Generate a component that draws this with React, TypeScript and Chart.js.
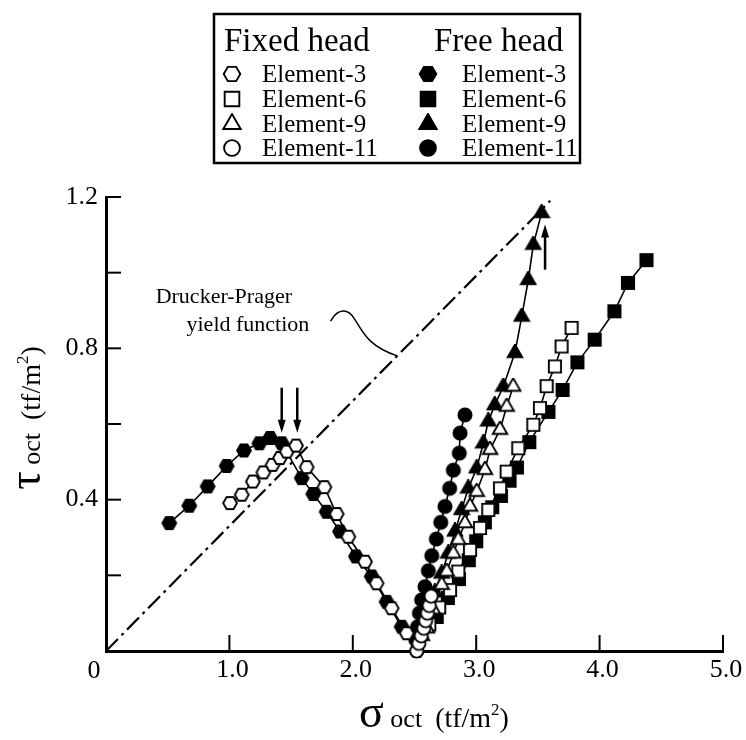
import React, { useEffect, useRef } from 'react';
import { Chart, registerables } from 'chart.js';

Chart.register(...registerables);

const FONT = '"Liberation Serif", "Times New Roman", serif';

// ---- tick values / labels ----
const xTickValues = [0, 1, 2, 3, 4, 5];
const xTickLabels = ['', '1.0', '2.0', '3.0', '4.0', '5.0'];
const originLabel = '0';
const yTickValues = [0, 0.2, 0.4, 0.6, 0.8, 1.0, 1.2];
const yLabeled = ['0.4', '0.8', '1.2'];

// ---- data (sigma_oct, tau_oct) ----
const fixedEl3 = [
  [1.005, 0.391], [1.1, 0.413], [1.19, 0.448], [1.275, 0.472], [1.35, 0.492],
  [1.41, 0.51], [1.465, 0.527], [1.54, 0.543], [1.626, 0.486], [1.77, 0.433],
  [1.869, 0.362], [1.964, 0.302], [2.099, 0.236], [2.193, 0.179], [2.315, 0.113],
  [2.437, 0.047], [2.518, 0.0],
];
const fixedEl6 = [
  [2.62, 0.07], [2.7, 0.115], [2.788, 0.161], [2.855, 0.21], [2.95, 0.267],
  [3.031, 0.325], [3.098, 0.373], [3.193, 0.43], [3.247, 0.474], [3.341, 0.536],
  [3.463, 0.598], [3.517, 0.642], [3.571, 0.7], [3.638, 0.752], [3.692, 0.805],
  [3.773, 0.854],
];
const fixedEl9 = [
  [2.6, 0.06], [2.65, 0.11], [2.72, 0.175], [2.761, 0.21], [2.815, 0.258],
  [2.855, 0.294], [2.909, 0.338], [2.95, 0.382], [3.004, 0.421], [3.071, 0.479],
  [3.112, 0.532], [3.193, 0.585], [3.247, 0.646], [3.3, 0.699],
];
const fixedEl11 = [
  [2.518, 0.0], [2.535, 0.02], [2.555, 0.04], [2.575, 0.06], [2.59, 0.08],
  [2.605, 0.1], [2.62, 0.12], [2.635, 0.145],
];
const freeEl3 = [
  [0.513, 0.338], [0.675, 0.384], [0.824, 0.435], [0.978, 0.489], [1.118, 0.53],
  [1.243, 0.549], [1.33, 0.563], [1.424, 0.549], [1.586, 0.457], [1.68, 0.415],
  [1.788, 0.368], [1.896, 0.316], [2.025, 0.25], [2.153, 0.197], [2.274, 0.13],
  [2.396, 0.064],
];
const freeEl6 = [
  [2.68, 0.09], [2.77, 0.14], [2.86, 0.19], [2.94, 0.24], [3.0, 0.29],
  [3.07, 0.34], [3.13, 0.38], [3.2, 0.41], [3.27, 0.45], [3.33, 0.485],
  [3.43, 0.552], [3.585, 0.632], [3.7, 0.69], [3.82, 0.763], [3.96, 0.823],
  [4.12, 0.898], [4.23, 0.973], [4.38, 1.033],
];
const freeEl9 = [
  [2.56, 0.04], [2.62, 0.1], [2.665, 0.155], [2.72, 0.205], [2.774, 0.258],
  [2.828, 0.316], [2.882, 0.373], [2.936, 0.43], [3.004, 0.483], [3.058, 0.549],
  [3.098, 0.607], [3.15, 0.65], [3.22, 0.699], [3.314, 0.788], [3.369, 0.884],
  [3.422, 0.981], [3.463, 1.074], [3.53, 1.158],
];
const freeEl11 = [
  [2.51, 0.03], [2.525, 0.064], [2.54, 0.1], [2.558, 0.135], [2.585, 0.17],
  [2.612, 0.212], [2.64, 0.252], [2.677, 0.296], [2.713, 0.34], [2.747, 0.382],
  [2.785, 0.43], [2.815, 0.478], [2.863, 0.523], [2.869, 0.576], [2.909, 0.624],
];
const druckerPrager = [[0, 0], [3.6, 1.19]];

// annotation anchors (data coords)
const downArrowsX = [1.424, 1.55];
const downArrowY = [0.696, 0.577];
const upArrow = [3.558, 1.008, 1.127];

const legendRows = ['Element-3', 'Element-6', 'Element-9', 'Element-11'];

function makeMarker(shape: string, filled: boolean, k = 1): HTMLCanvasElement {
  const s = Math.ceil(18 * k);
  const c = document.createElement('canvas');
  c.width = s;
  c.height = s;
  const ctx = c.getContext('2d')!;
  const cx = s / 2;
  const cy = s / 2;
  ctx.beginPath();
  if (shape === 'hex') {
    const r = 6.9 * k;
    for (let i = 0; i < 6; i++) {
      const a = (i * Math.PI) / 3;
      const px = cx + r * Math.cos(a);
      const py = cy + r * Math.sin(a);
      if (i === 0) ctx.moveTo(px, py);
      else ctx.lineTo(px, py);
    }
    ctx.closePath();
  } else if (shape === 'square') {
    const h = 6.1 * k;
    ctx.rect(cx - h, cy - h, 2 * h, 2 * h);
  } else if (shape === 'triangle') {
    const a = 14.5 * k;
    const h = (a * Math.sqrt(3)) / 2;
    ctx.moveTo(cx, cy - (2 * h) / 3);
    ctx.lineTo(cx + a / 2, cy + h / 3);
    ctx.lineTo(cx - a / 2, cy + h / 3);
    ctx.closePath();
  } else {
    ctx.arc(cx, cy, 6.6 * k, 0, Math.PI * 2);
  }
  ctx.fillStyle = filled ? '#000' : '#fff';
  ctx.fill();
  ctx.lineWidth = 1.9;
  ctx.strokeStyle = '#000';
  ctx.stroke();
  return c;
}

function drawRich(
  ctx: CanvasRenderingContext2D,
  parts: { t: string; size: number; dy?: number }[],
  cx: number,
  baseline: number
) {
  let total = 0;
  const widths = parts.map((p) => {
    ctx.font = `${p.size}px ${FONT}`;
    const w = ctx.measureText(p.t).width;
    total += w;
    return w;
  });
  let x = cx - total / 2;
  ctx.textAlign = 'left';
  ctx.textBaseline = 'alphabetic';
  parts.forEach((p, i) => {
    ctx.font = `${p.size}px ${FONT}`;
    ctx.fillText(p.t, x, baseline + (p.dy || 0));
    x += widths[i];
  });
}

function arrow(ctx: CanvasRenderingContext2D, x: number, y0: number, y1: number) {
  const dir = y1 > y0 ? 1 : -1;
  ctx.beginPath();
  ctx.moveTo(x, y0);
  ctx.lineTo(x, y1 - dir * 10);
  ctx.lineWidth = 2.5;
  ctx.stroke();
  ctx.beginPath();
  ctx.moveTo(x, y1);
  ctx.lineTo(x - 4, y1 - dir * 13);
  ctx.lineTo(x + 4, y1 - dir * 13);
  ctx.closePath();
  ctx.fill();
}

const titleParts = (g: string) => [
  { t: g, size: 46 },
  { t: ' oct  ', size: 26 },
  { t: '(tf/m', size: 28 },
  { t: '2', size: 17, dy: -12 },
  { t: ')', size: 28 },
];

export default function App() {
  const ref = useRef<HTMLCanvasElement | null>(null);

  useEffect(() => {
    document.body.style.margin = '0';
    const canvas = ref.current!;
    const M = {
      hexO: makeMarker('hex', false),
      hexF: makeMarker('hex', true),
      sqO: makeMarker('square', false),
      sqF: makeMarker('square', true),
      triO: makeMarker('triangle', false),
      triF: makeMarker('triangle', true),
      cirO: makeMarker('circle', false),
      cirF: makeMarker('circle', true),
    };
    const LK = 1.2;
    const legendOpen = [
      makeMarker('hex', false, LK), makeMarker('square', false, LK),
      makeMarker('triangle', false, LK), makeMarker('circle', false, LK),
    ];
    const legendFilled = [
      makeMarker('hex', true, LK), makeMarker('square', true, LK),
      makeMarker('triangle', true, LK), makeMarker('circle', true, LK),
    ];

    const series = (pts: number[][], style: HTMLCanvasElement) => ({
      data: pts.map(([x, y]) => ({ x, y })),
      showLine: true,
      borderColor: '#000',
      borderWidth: 1.6,
      pointStyle: style,
      pointRadius: 7,
      clip: false as any,
    });

    const overlay = {
      id: 'overlay',
      afterDraw(chart: any) {
        const { ctx, chartArea } = chart;
        const xs = chart.scales.x;
        const ys = chart.scales.y;
        ctx.save();
        ctx.strokeStyle = '#000';
        ctx.fillStyle = '#000';
        // inward ticks
        ctx.lineWidth = 2;
        xTickValues.forEach((v) => {
          if (v === 0) return;
          const px = xs.getPixelForValue(v);
          ctx.beginPath();
          ctx.moveTo(px, chartArea.bottom);
          ctx.lineTo(px, chartArea.bottom - 16);
          ctx.stroke();
        });
        yTickValues.forEach((v) => {
          if (v === 0) return;
          const py = ys.getPixelForValue(v);
          ctx.beginPath();
          ctx.moveTo(chartArea.left, py);
          ctx.lineTo(chartArea.left + 15, py);
          ctx.stroke();
        });

        // origin label
        ctx.font = `26px ${FONT}`;
        ctx.textAlign = 'center';
        ctx.textBaseline = 'middle';
        ctx.fillText(originLabel, chartArea.left - 12, chartArea.bottom + 20);

        // axis titles
        drawRich(ctx, titleParts('σ'), 434, 727);
        ctx.save();
        ctx.translate(40, 418);
        ctx.rotate(-Math.PI / 2);
        drawRich(ctx, titleParts('τ'), 0, 0);
        ctx.restore();

        // Drucker-Prager annotation
        ctx.font = `22px ${FONT}`;
        ctx.textAlign = 'center';
        ctx.textBaseline = 'middle';
        ctx.fillText('Drucker-Prager', xs.getPixelForValue(0.955), ys.getPixelForValue(0.936));
        ctx.fillText('yield function', xs.getPixelForValue(1.15), ys.getPixelForValue(0.86));
        const sx = xs.getPixelForValue(1.82);
        const sy = ys.getPixelForValue(0.872);
        const ex = xs.getPixelForValue(2.36);
        const ey = ys.getPixelForValue(2.36 * (druckerPrager[1][1] / druckerPrager[1][0]));
        ctx.lineWidth = 1.5;
        ctx.beginPath();
        ctx.moveTo(sx, sy);
        ctx.bezierCurveTo(sx + 8, sy - 14, sx + 18, sy - 12, sx + 24, sy - 2);
        ctx.bezierCurveTo(sx + 32, sy + 10, ex - 30, ey - 10, ex, ey);
        ctx.stroke();

        // arrows
        downArrowsX.forEach((v) => {
          arrow(ctx, xs.getPixelForValue(v), ys.getPixelForValue(downArrowY[0]), ys.getPixelForValue(downArrowY[1]));
        });
        arrow(ctx, xs.getPixelForValue(upArrow[0]), ys.getPixelForValue(upArrow[1]), ys.getPixelForValue(upArrow[2]));

        // legend box
        ctx.lineWidth = 2.5;
        ctx.strokeRect(214, 14, 366, 149);
        ctx.textAlign = 'left';
        ctx.textBaseline = 'middle';
        ctx.font = `33px ${FONT}`;
        ctx.fillText('Fixed head', 224, 42);
        ctx.fillText('Free head', 434, 42);
        const rowsY = [74, 99, 124, 148];
        ctx.font = `25px ${FONT}`;
        legendRows.forEach((label, i) => {
          const yy = rowsY[i];
          const mo = legendOpen[i];
          const mf = legendFilled[i];
          ctx.drawImage(mo, 232 - mo.width / 2, yy - mo.height / 2);
          ctx.drawImage(mf, 428 - mf.width / 2, yy - mf.height / 2);
          ctx.fillText(label, 262, yy + 1);
          ctx.fillText(label, 462, yy + 1);
        });
        ctx.restore();
      },
    };

    const chart = new Chart(canvas, {
      type: 'scatter',
      data: {
        datasets: [
          series(fixedEl11, M.cirO),
          series(fixedEl3, M.hexO),
          series(fixedEl9, M.triO),
          series(fixedEl6, M.sqO),
          series(freeEl11, M.cirF),
          series(freeEl3, M.hexF),
          series(freeEl9, M.triF),
          series(freeEl6, M.sqF),
          {
            data: druckerPrager.map(([x, y]) => ({ x, y })),
            showLine: true,
            borderColor: '#000',
            borderWidth: 2.2,
            borderDash: [17, 5, 3, 5],
            pointRadius: 0,
          } as any,
        ],
      },
      options: {
        responsive: false,
        animation: false,
        events: [],
        layout: { padding: { left: 0, right: 23, top: 197, bottom: 0 } },
        plugins: { legend: { display: false }, tooltip: { enabled: false } },
        scales: {
          x: {
            type: 'linear',
            min: 0,
            max: 5,
            afterFit: (s: any) => {
              s.height = 89;
            },
            afterBuildTicks: (s: any) => {
              s.ticks = xTickValues.map((v) => ({ value: v }));
            },
            grid: { display: false, drawTicks: false },
            border: { display: true, width: 3, color: '#000' },
            ticks: {
              padding: 4,
              labelOffset: 3,
              color: '#000',
              font: { family: FONT, size: 26 },
              callback: (v: any) => {
                const i = xTickValues.indexOf(Math.round(Number(v) * 10) / 10);
                return i >= 0 ? xTickLabels[i] : '';
              },
            },
          },
          y: {
            type: 'linear',
            min: 0,
            max: 1.2,
            afterFit: (s: any) => {
              s.width = 106;
            },
            afterBuildTicks: (s: any) => {
              s.ticks = yTickValues.map((v) => ({ value: v }));
            },
            grid: { display: false, drawTicks: false },
            border: { display: true, width: 3, color: '#000' },
            ticks: {
              padding: 8,
              color: '#000',
              font: { family: FONT, size: 26 },
              callback: (v: any) => {
                const s = (Math.round(Number(v) * 10) / 10).toFixed(1);
                return yLabeled.includes(s) ? s : '';
              },
            },
          },
        },
      },
      plugins: [overlay],
    });
    return () => chart.destroy();
  }, []);

  return (
    <div style={{ position: 'absolute', left: 0, top: 0, width: 746, height: 740, background: '#fff' }}>
      <canvas ref={ref} width={746} height={740} />
    </div>
  );
}
